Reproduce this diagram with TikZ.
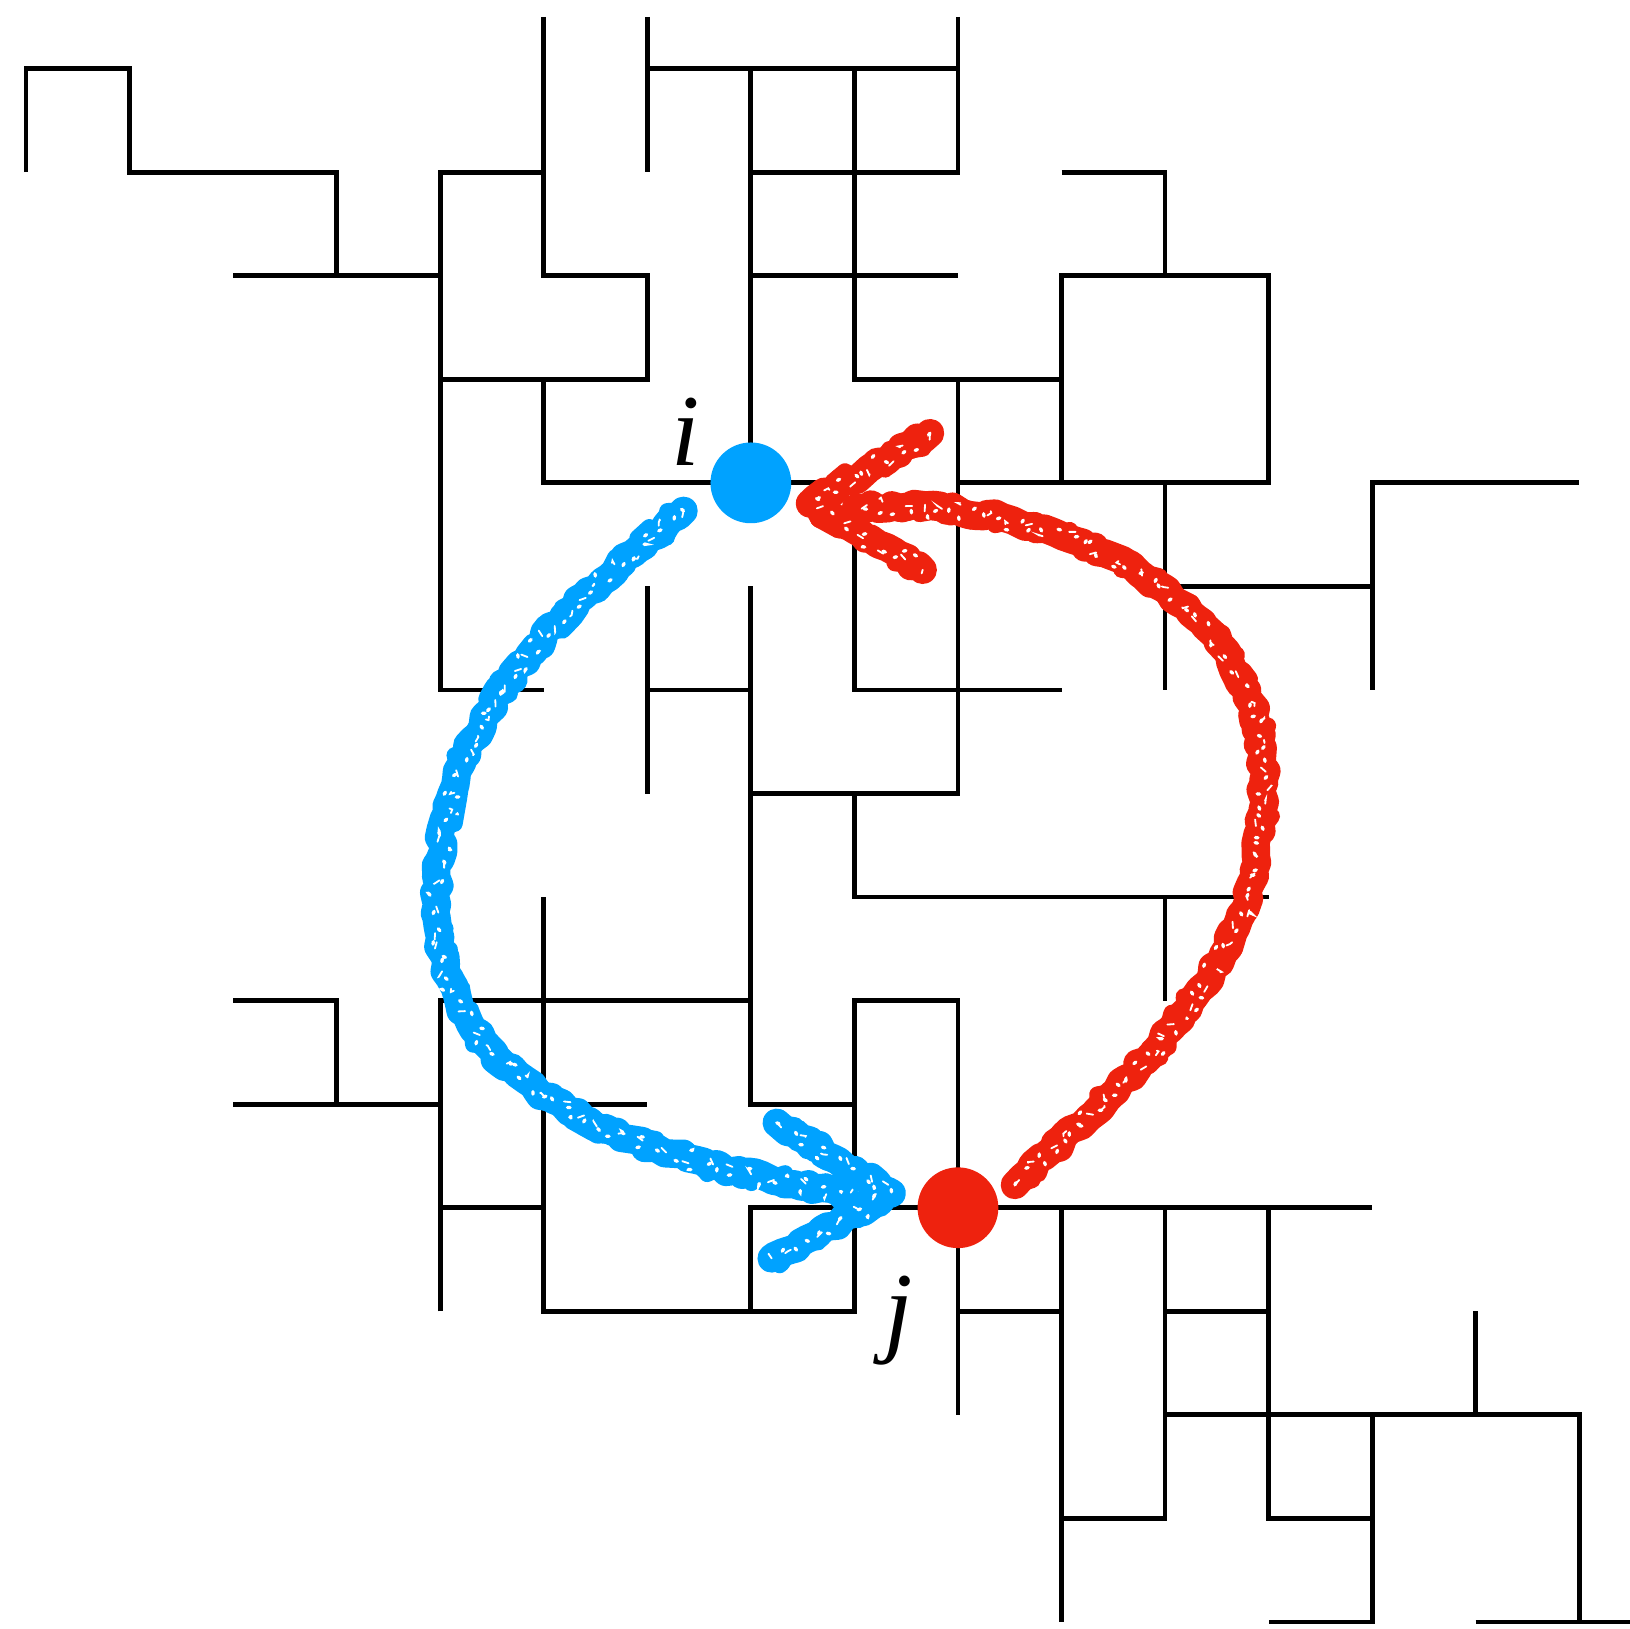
\documentclass[tikz,border=0pt]{standalone}
\usepackage{fontspec}
\setmainfont{Liberation Serif}
\usetikzlibrary{calc,decorations.pathmorphing}

\definecolor{dotblue}{RGB}{0,162,255}
\definecolor{dotred}{RGB}{238,34,14}

\tikzset{
  wall/.style={line width=1.3pt, black, line cap=butt},
  site/.style={circle, minimum size=0.78cm, inner sep=0pt, draw=none},
  lbl/.style={font=\fontsize{28}{30}\selectfont\itshape, inner sep=0pt},
  crayon/.style={line width=#1, line cap=round, line join=round,
    decorate, decoration={random steps, segment length=2pt, amplitude=0.9pt}},
  crayonedge/.style={line width=4.6pt, line cap=round, line join=round,
    decorate, decoration={random steps, segment length=3pt, amplitude=2.7pt}},
  speckle/.style={white, line width=0.9pt, line cap=round,
    dash pattern=on 0.7pt off 5.2pt,
    decorate, decoration={random steps, segment length=2.3pt, amplitude=3pt}},
  fleck/.style={white, line width=0.5pt, line cap=round,
    dash pattern=on 1.8pt off 8.3pt,
    decorate, decoration={random steps, segment length=1.8pt, amplitude=2.4pt}},
}

% a hand-drawn, waxy stroke: rough core, frayed edge, white flecks
\newcommand\waxstroke[2]{%
  \draw[crayon=7.8pt, #1] #2;
  \draw[crayonedge, #1] #2;
  \draw[speckle] #2;
  \draw[fleck] #2;
}

\begin{document}
\begin{tikzpicture}
\pgfmathsetseed{7}
\useasboundingbox (-0.251,0.663) rectangle (15.49,-15.06);

% lattice of occupied bonds
\draw[wall]
  (0,-1)--(0,0)--(1,0)--(1,-1)--(3,-1)--(3,-2)
  (2,-2)--(4,-2)
  (5,-1)--(4,-1)--(4,-6)--(5,-6)
  (5,0.5)--(5,-2)--(6,-2)--(6,-3)--(4,-3)
  (5,-3)--(5,-4)--(8,-4)--(8,-6)--(10,-6)
  (6,0.5)--(6,-1)
  (6,0)--(9,0)
  (9,0.5)--(9,-1)--(7,-1)
  (7,0)--(7,-4)
  (8,0)--(8,-3)--(10,-3)
  (7,-2)--(9,-2)
  (9,-3)--(9,-7)--(7,-7)
  (10,-1)--(11,-1)--(11,-2)
  (10,-4)--(10,-2)--(12,-2)--(12,-4)--(9,-4)
  (11,-4)--(11,-6)
  (11,-5)--(13,-5)
  (13,-6)--(13,-4)--(15,-4)
  (7,-5)--(7,-10)--(8,-10)
  (6,-5)--(6,-7)
  (6,-6)--(7,-6)
  (8,-7)--(8,-8)--(12,-8)
  (11,-8)--(11,-9)
  (2,-9)--(3,-9)--(3,-10)
  (2,-10)--(4,-10)
  (4,-12)--(4,-9)--(7,-9)
  (5,-8)--(5,-12)--(8,-12)--(8,-9)--(9,-9)--(9,-13)
  (5,-10)--(6,-10)
  (4,-11)--(5,-11)
  (7,-12)--(7,-11)--(13,-11)
  (9,-12)--(10,-12)
  (10,-11)--(10,-15)
  (10,-14)--(11,-14)--(11,-11)
  (11,-12)--(12,-12)
  (12,-11)--(12,-14)--(13,-14)
  (11,-13)--(15,-13)--(15,-15)
  (14,-15)--(15.49,-15)
  (14,-12)--(14,-13)
  (13,-13)--(13,-15)--(12,-15);

% the two sites
\node[site, fill=dotblue] (i) at (7,-4) {};
\node[site, fill=dotred]  (j) at (9,-11) {};
\node[lbl] (li) at (6.375,-3.51) {i};
\node[lbl] (lj) at (8.43,-12.09) {j};

% end points of the hand-drawn arrows
\coordinate (bs) at ($(i)+(-0.65,-0.27)$);
\coordinate (bl) at (3.97,-8.07);
\coordinate (be) at ($(j)+(-0.80,0.08)$);
\coordinate (ba) at ($(j)+(-0.64,0.14)$);
\coordinate (bu) at ($(j)+(-1.75,0.82)$);
\coordinate (bd) at ($(j)+(-1.80,-0.49)$);

\coordinate (rs) at ($(j)+(0.55,0.22)$);
\coordinate (rr) at (11.95,-6.87);
\coordinate (re) at ($(i)+(1.02,-0.24)$);
\coordinate (ra) at ($(i)+(0.57,-0.20)$);
\coordinate (ru) at ($(i)+(1.73,0.48)$);
\coordinate (rd) at ($(i)+(1.66,-0.84)$);

% i -> j
\waxstroke{dotblue}{(bs) .. controls (5.00,-5.37) and (3.97,-6.30) .. (bl)
  .. controls (3.97,-10.10) and (6.28,-10.58) .. (be)}
\waxstroke{dotblue}{(bu) -- (ba) -- (bd)}

% j -> i
\waxstroke{dotred}{(rs) .. controls (10.86,-9.55) and (11.95,-8.67) .. (rr)
  .. controls (11.95,-4.90) and (9.60,-4.10) .. (re)}
\waxstroke{dotred}{(ru) -- (ra) -- (rd)}
\end{tikzpicture}
\end{document}
